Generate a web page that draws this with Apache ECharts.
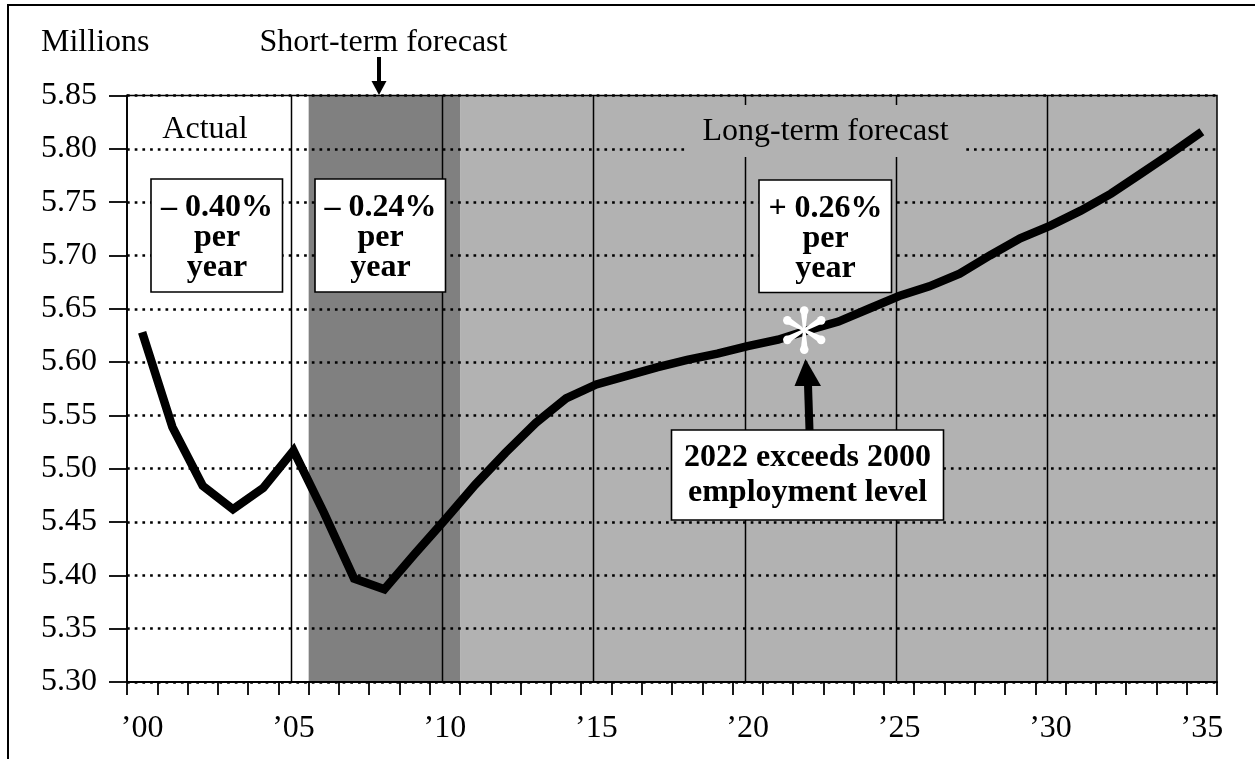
<!DOCTYPE html>
<html>
<head>
<meta charset="utf-8">
<script src="https://cdn.jsdelivr.net/npm/echarts@6/dist/echarts.min.js"></script>
<style>
  html, body { margin: 0; padding: 0; background: #fff; }
  #chart { width: 1255px; height: 759px; }
</style>
</head>
<body>
<div id="chart"></div>
<script>
// Annual employment, millions (actual through 2005, forecast afterwards)
const years = ['2000','2001','2002','2003','2004','2005','2006','2007','2008','2009',
               '2010','2011','2012','2013','2014','2015','2016','2017','2018','2019',
               '2020','2021','2022','2023','2024','2025','2026','2027','2028','2029',
               '2030','2031','2032','2033','2034','2035'];
const employment = [5.628, 5.539, 5.484, 5.462, 5.482, 5.517, 5.459, 5.397, 5.387, 5.420,
                    5.452, 5.485, 5.515, 5.543, 5.566, 5.579, 5.587, 5.595, 5.602, 5.608,
                    5.615, 5.621, 5.630, 5.638, 5.650, 5.662, 5.671, 5.683, 5.700, 5.716,
                    5.728, 5.742, 5.758, 5.777, 5.796, 5.816];

// Value axis range
const yMin = 5.30, yMax = 5.85, yStep = 0.05;

// Forecast periods (short-term, long-term)
const periodBands = [['2006', '2010'], ['2011', '2035']];
// Five-year reference lines
const referenceYears = ['2005', '2010', '2015', '2020', '2025', '2030'];
// Year in which employment passes the 2000 level
const crossingYear = '2022';

// Growth-rate notes
const rateActual = ['– 0.40%', 'per', 'year'];
const rateShort = ['– 0.24%', 'per', 'year'];
const rateLong = ['+ 0.26%', 'per', 'year'];
const crossingNote = ['2022 exceeds 2000', 'employment level'];

const serif = '"Liberation Serif", "Times New Roman", serif';
const bandColors = ['#808080', '#b2b2b2'];
const fontPx = 32;

const chart = echarts.init(document.getElementById('chart'), null, { renderer: 'canvas' });

function textEl(x, y, text, opts) {
  opts = opts || {};
  return {
    type: 'text', x: x, y: y, z: 100, silent: true,
    style: {
      text: text,
      font: (opts.bold ? 'bold ' : '') + (opts.size || fontPx) + 'px ' + serif,
      fill: '#000',
      align: opts.align || 'center', textAlign: opts.align || 'center',
      verticalAlign: 'middle', textVerticalAlign: 'middle',
      lineHeight: opts.lineHeight || fontPx
    }
  };
}
function boxEl(x, y, w, h, fill, stroke) {
  return {
    type: 'rect', z: 99, silent: true,
    shape: { x: x, y: y, width: w, height: h },
    style: { fill: fill, stroke: stroke || null, lineWidth: stroke ? 1.6 : 0 }
  };
}

const option = {
  animation: false,
  backgroundColor: '#fff',
  grid: {
    left: 127, top: 95.5, width: 1090, height: 586.5,
    show: true, borderColor: '#000', borderWidth: 1.5, z: 4,
    backgroundColor: 'transparent'
  },
  xAxis: {
    type: 'category', data: years, boundaryGap: true, z: 4,
    axisLine: { show: true, lineStyle: { color: '#000', width: 2 } },
    axisTick: { show: true, inside: false, interval: 0, length: 13, lineStyle: { color: '#000', width: 1.8 } },
    axisLabel: {
      interval: 4, margin: 31, color: '#000', fontFamily: serif, fontSize: fontPx,
      formatter: v => '\u2019' + v.slice(2)
    },
    splitLine: { show: false }
  },
  yAxis: {
    type: 'value', min: yMin, max: yMax, interval: yStep, z: 2,
    axisLine: { show: true, lineStyle: { color: '#000', width: 1.8 } },
    axisTick: { show: true, length: 18, lineStyle: { color: '#000', width: 1.8 } },
    axisLabel: {
      margin: 30, color: '#000', fontFamily: serif, fontSize: fontPx,
      formatter: v => v.toFixed(2)
    },
    splitLine: { show: true, lineStyle: { color: '#000', width: 2.7, type: [2.7, 5.0] } }
  },
  series: [
    {
      // shaded forecast periods
      type: 'custom', z: 1, silent: true,
      data: periodBands.map(b => [years.indexOf(b[0]), years.indexOf(b[1])]),
      renderItem: function (params, api) {
        const band = api.size([1, 0])[0];
        const top = api.coord([api.value(0), yMax]);
        const bottom = api.coord([api.value(1), yMin]);
        return {
          type: 'rect',
          shape: { x: top[0] - band / 2, y: top[1], width: bottom[0] - top[0] + band, height: bottom[1] - top[1] },
          style: { fill: bandColors[params.dataIndex] }
        };
      }
    },
    {
      // five-year reference lines
      type: 'custom', z: 3, silent: true,
      data: referenceYears.map(y => [years.indexOf(y), yMax]),
      renderItem: function (params, api) {
        const top = api.coord([api.value(0), yMax]);
        const bottom = api.coord([api.value(0), yMin]);
        const x = Math.round(top[0]) - 2.5;
        return {
          type: 'line',
          shape: { x1: x, y1: top[1], x2: x, y2: bottom[1] },
          style: { stroke: '#000', lineWidth: 1.5 }
        };
      }
    },
    {
      type: 'line', z: 5, data: employment, symbol: 'none', silent: true,
      lineStyle: { color: '#000', width: 8.5, join: 'miter', cap: 'butt' }
    },
    {
      // white asterisk where 2000 employment is regained
      type: 'custom', z: 6, silent: true,
      data: [[years.indexOf(crossingYear), employment[years.indexOf(crossingYear)]]],
      renderItem: function (params, api) {
        const c = api.coord([api.value(0), api.value(1)]);
        const cx = c[0] - 4, cy = c[1];
        const children = [];
        for (let k = 0; k < 6; k++) {
          const a = Math.PI / 2 + k * Math.PI / 3;
          const dx = Math.cos(a), dy = -Math.sin(a);
          children.push({
            type: 'polygon',
            shape: { points: [
              [cx - dy * 1.2, cy + dx * 1.2],
              [cx + dx * 17 - dy * 3.2, cy + dy * 17 + dx * 3.2],
              [cx + dx * 17 + dy * 3.2, cy + dy * 17 - dx * 3.2],
              [cx + dy * 1.2, cy - dx * 1.2]
            ] },
            style: { fill: '#fff' }
          });
          children.push({
            type: 'circle',
            shape: { cx: cx + dx * 19.5, cy: cy + dy * 19.5, r: 4.3 },
            style: { fill: '#fff' }
          });
        }
        return { type: 'group', children: children };
      }
    }
  ],
  graphic: {
    elements: [
      // outer frame
      { type: 'rect', z: 100, silent: true, shape: { x: 8, y: 5, width: 1300, height: 800 },
        style: { fill: 'none', stroke: '#000', lineWidth: 2 } },

      textEl(41, 43, 'Millions', { align: 'left' }),
      textEl(383.5, 43, 'Short-term forecast'),
      { type: 'rect', z: 100, silent: true, shape: { x: 377, y: 57, width: 4, height: 26 }, style: { fill: '#000' } },
      { type: 'polygon', z: 100, silent: true, shape: { points: [[371.5, 81], [386.5, 81], [379, 95]] }, style: { fill: '#000' } },

      textEl(205, 130, 'Actual'),

      boxEl(685, 105, 278, 52, '#b2b2b2'),
      textEl(825.5, 132, 'Long-term forecast'),

      boxEl(151, 179, 131.5, 113, '#fff', '#000'),
      textEl(217, 238, rateActual.join('\n'), { bold: true, lineHeight: 30 }),
      boxEl(315, 179, 130.5, 113, '#fff', '#000'),
      textEl(380.5, 238, rateShort.join('\n'), { bold: true, lineHeight: 30 }),
      boxEl(759, 180, 132.5, 112.5, '#fff', '#000'),
      textEl(825.5, 238.5, rateLong.join('\n'), { bold: true, lineHeight: 30 }),

      // arrow pointing at the asterisk
      { type: 'polygon', z: 100, silent: true,
        shape: { points: [[805.5, 430], [813.5, 430], [812, 385], [804, 385]] }, style: { fill: '#000' } },
      { type: 'polygon', z: 100, silent: true,
        shape: { points: [[794.5, 386], [821, 386], [805.5, 359]] }, style: { fill: '#000' } },
      boxEl(671.5, 430, 272, 90, '#fff', '#000'),
      textEl(807.5, 475.5, crossingNote.join('\n'), { bold: true, lineHeight: 35 })
    ]
  }
};

chart.setOption(option);
</script>
</body>
</html>
